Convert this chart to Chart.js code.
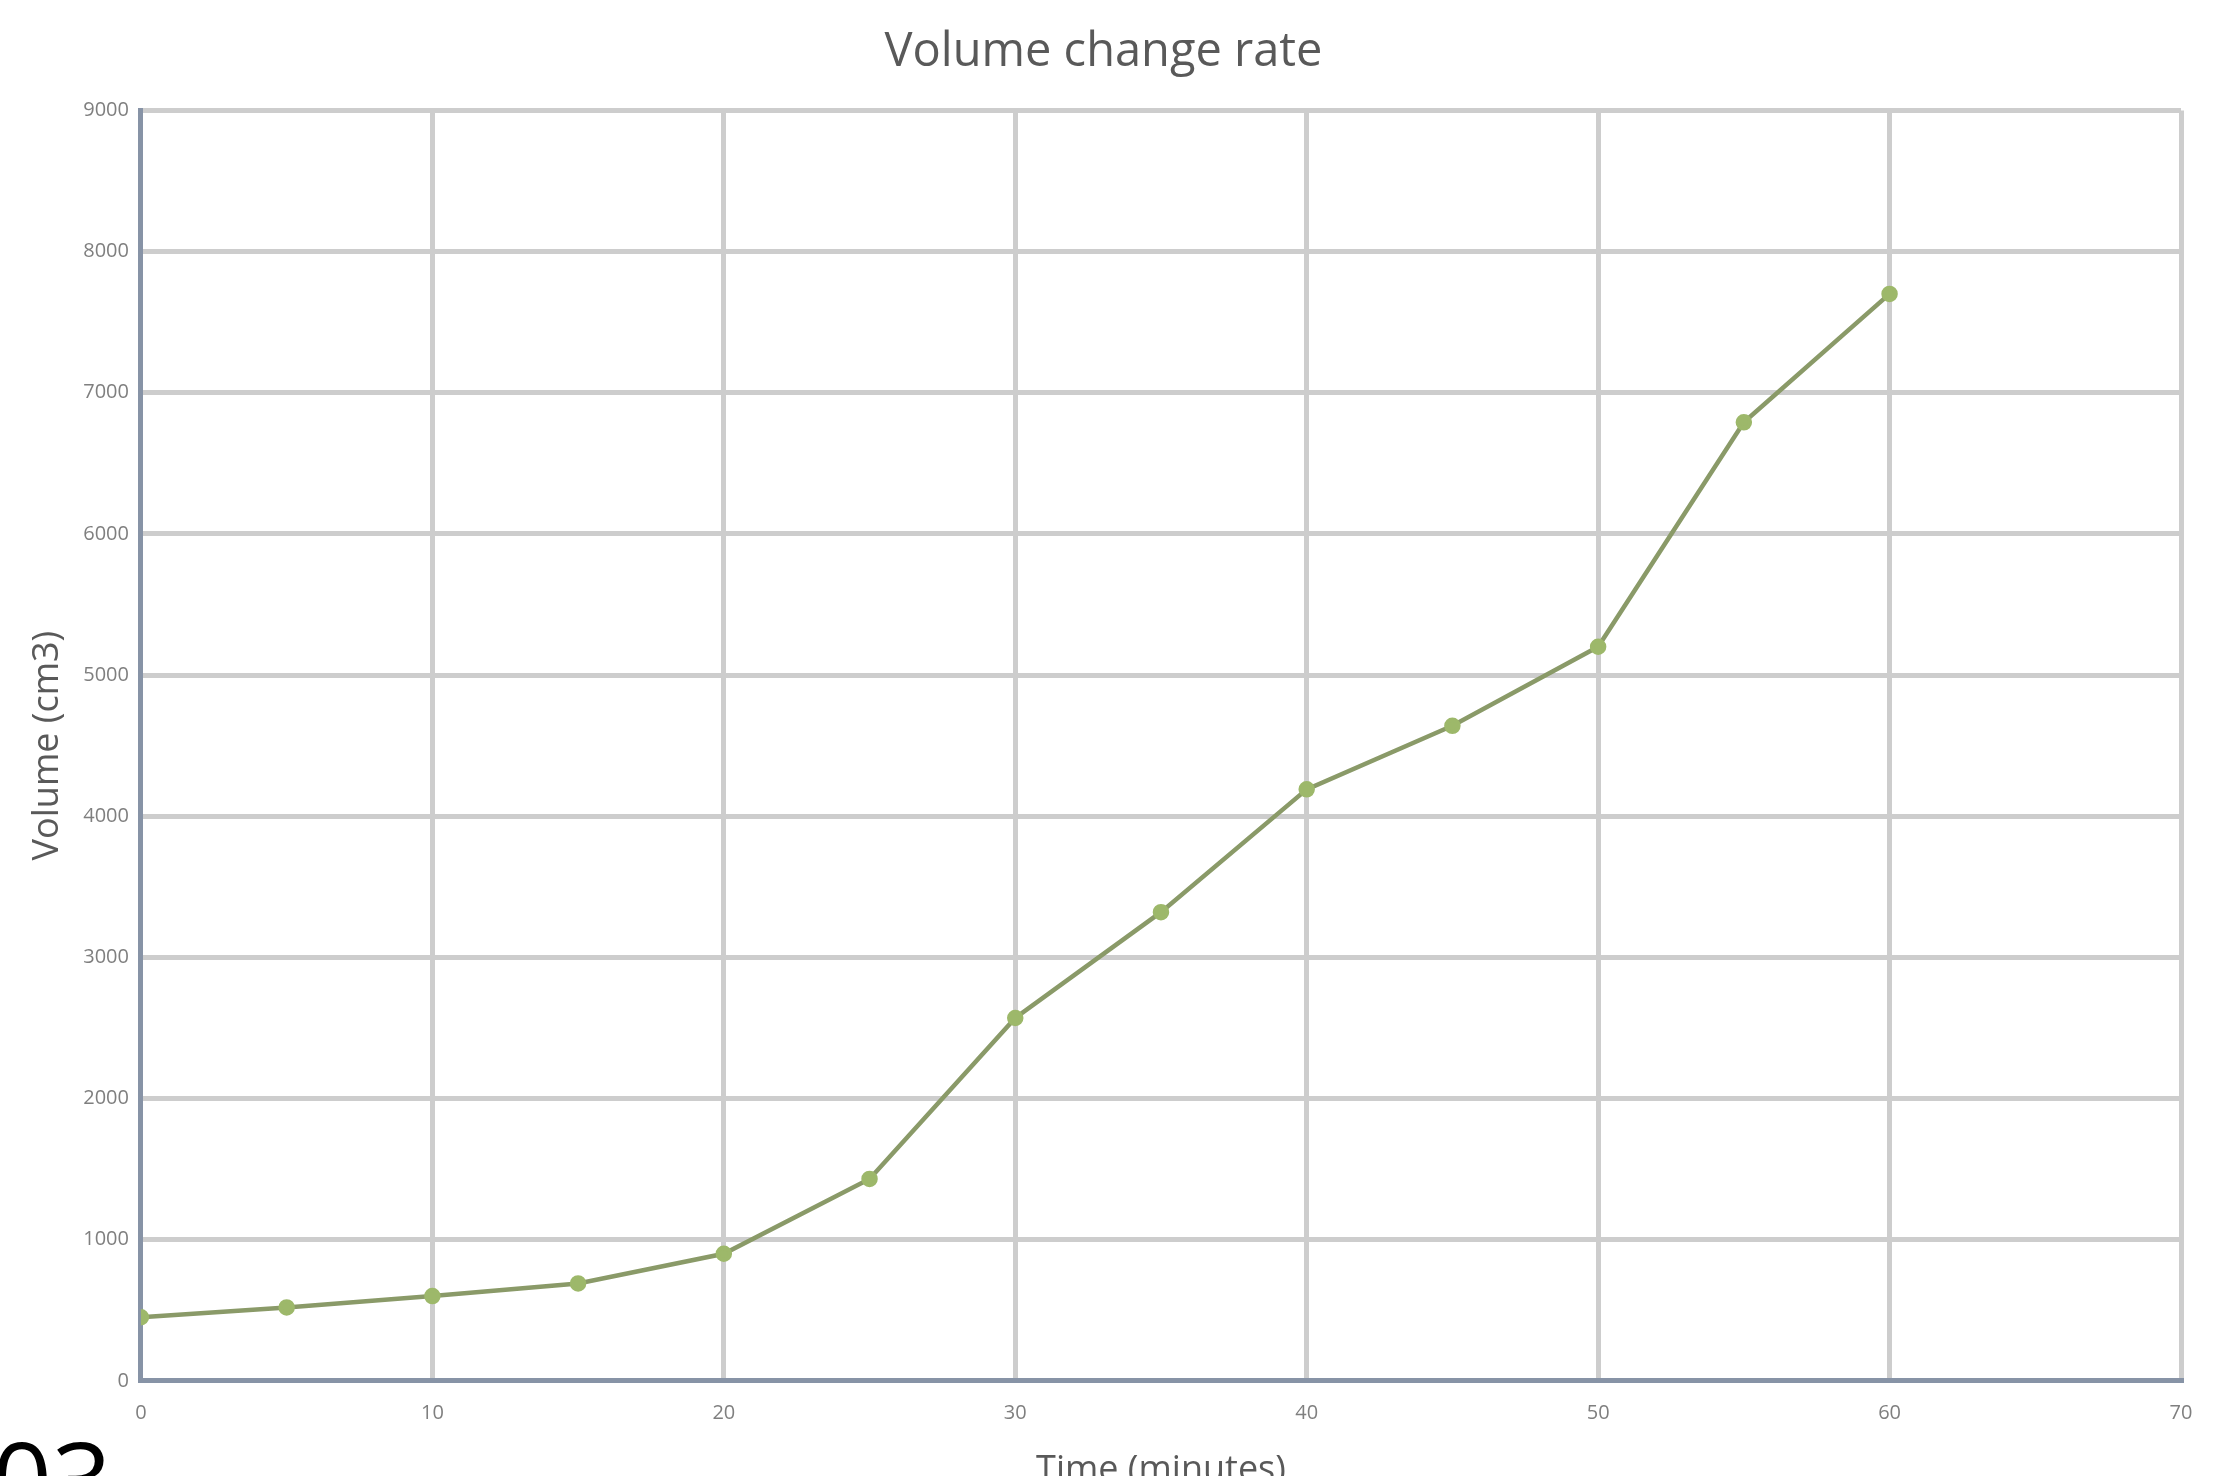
<!DOCTYPE html>
<html>
<head>
<meta charset="utf-8">
<script src="https://cdn.jsdelivr.net/npm/chart.js@4"></script>
<style>
    html, body { margin: 0; padding: 0; background: #fff; overflow: hidden; }
    #wrap { position: relative; width: 2228px; height: 1476px; overflow: hidden; }
    #chart { position: absolute; left: 0; top: 0; }
    #stray { position: absolute; left: -8px; top: 1425px; font: 105px "Open Sans", sans-serif; color: #000; line-height: 1; }
</style>
</head>
<body>
<div id="wrap">
    <canvas id="chart" width="2228" height="1492"></canvas>
    <div id="stray">03</div>
</div>
<script>
const tempos = [0, 5, 10, 15, 20, 25, 30, 35, 40, 45, 50, 55, 60];
const volumes = [450, 520, 600, 690, 900, 1430, 2570, 3320, 4190, 4640, 5200, 6790, 7700];
const xTicks = [0, 10, 20, 30, 40, 50, 60, 70];
const yTicks = [0, 1000, 2000, 3000, 4000, 5000, 6000, 7000, 8000, 9000];

Chart.defaults.font.family = "'Open Sans', sans-serif";
Chart.defaults.color = "#7f7f7f";

const gridCor = "#cdcdcd";
const eixoCor = "#8793a6";

new Chart(document.getElementById("chart").getContext("2d"), {
    type: "scatter",
    data: {
        datasets: [
            {
                label: "Volume",
                data: tempos.map((t, i) => ({ x: t, y: volumes[i] })),
                showLine: true,
                borderColor: "#8a9a68",
                borderWidth: 4.5,
                pointRadius: 6,
                pointBackgroundColor: "#9db86a",
                pointBorderColor: "#9db86a",
                tension: 0,
            },
        ],
    },
    options: {
        responsive: false,
        devicePixelRatio: 1,
        animation: false,
        layout: { padding: { left: 26, right: 47, top: 20, bottom: 0 } },
        plugins: {
            legend: { display: false },
            tooltip: { enabled: false },
            title: {
                display: true,
                text: "Volume change rate",
                color: "#595959",
                font: { size: 47, weight: "normal" },
                padding: { top: 4, bottom: 30 },
            },
        },
        scales: {
            x: {
                type: "linear",
                min: 0,
                max: 70,
                afterBuildTicks: (axis) => { axis.ticks = xTicks.map((v) => ({ value: v })); },
                grid: { color: gridCor, lineWidth: 5, drawTicks: false },
                border: { color: eixoCor, width: 5 },
                ticks: { font: { size: 20 }, padding: 20, maxRotation: 0, callback: (v) => String(v) },
                title: {
                    display: true,
                    text: "Time (minutes)",
                    color: "#595959",
                    font: { size: 36 },
                    padding: { top: 4, bottom: 0 },
                },
            },
            y: {
                type: "linear",
                min: 0,
                max: 9000,
                afterBuildTicks: (axis) => { axis.ticks = yTicks.map((v) => ({ value: v })); },
                grid: { color: gridCor, lineWidth: 5, drawTicks: false },
                border: { color: eixoCor, width: 5 },
                ticks: { font: { size: 20 }, padding: 12, callback: (v) => String(v) },
                title: {
                    display: true,
                    text: "Volume (cm3)",
                    color: "#595959",
                    font: { size: 36 },
                    padding: { top: 0, bottom: 2 },
                },
            },
        },
    },
});
</script>
</body>
</html>
